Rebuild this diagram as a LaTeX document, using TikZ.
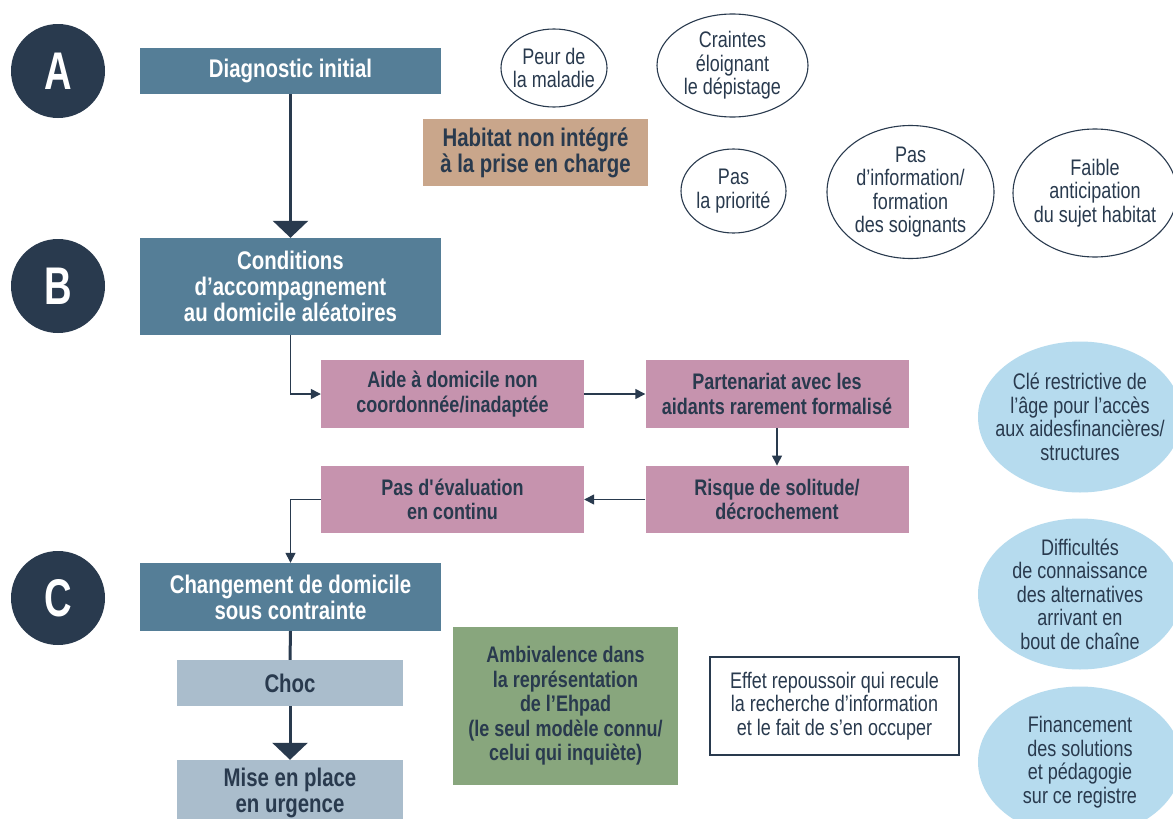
\documentclass[tikz,border=0pt]{standalone}
\usepackage{fontspec}
\setmainfont{Liberation Sans}[FakeStretch=0.8]
\newfontfamily\letterfont{Liberation Sans}[FakeStretch=0.72]
\usetikzlibrary{arrows.meta,shapes.geometric}
\definecolor{navy}{HTML}{293A4E}
\definecolor{steel}{HTML}{557E97}
\definecolor{tan}{HTML}{C9A68B}
\definecolor{pink}{HTML}{C693AE}
\definecolor{greyblue}{HTML}{AABDCC}
\definecolor{sage}{HTML}{88A67D}
\definecolor{skyblue}{HTML}{B6DBEE}
\tikzset{
  bigtxt/.style={font=\fontsize{25.5}{26}\selectfont\bfseries},
  smalltxt/.style={font=\fontsize{22.5}{24.5}\selectfont\bfseries},
  regtxt/.style={font=\fontsize{22.5}{23.5}\selectfont},
  mainbox/.style={rectangle, fill=steel, text=white, bigtxt, align=center, inner sep=0pt},
  pinkbox/.style={rectangle, fill=pink, text=navy, smalltxt, align=center, inner sep=0pt, minimum width=263pt, minimum height=67.5pt},
  greybox/.style={rectangle, fill=greyblue, text=navy, bigtxt, align=center, inner sep=0pt, minimum width=226pt},
  letter/.style={circle, fill=navy, text=white, minimum size=94pt, inner sep=0pt, font=\letterfont\fontsize{53}{53}\selectfont\bfseries},
  wellipse/.style={ellipse, draw=navy, line width=1.1pt, fill=white, text=navy, regtxt, align=center, inner sep=-20pt},
  bellipse/.style={ellipse, fill=skyblue, text=navy, regtxt, align=center, inner sep=-20pt, minimum width=204pt, minimum height=151pt},
  bigarrow/.style={draw=navy, line width=3pt, -{Triangle[width=35pt,length=17pt]}},
  smallarrow/.style={draw=navy, line width=1.4pt, -{Triangle[width=10pt,length=10pt]}},
  plainline/.style={draw=navy, line width=3pt},
}
\begin{document}
\begin{tikzpicture}[x=1pt,y=-1pt]
\useasboundingbox (0,0) rectangle (1173,819);
\clip (0,0) rectangle (1173,819);
\fill[white] (0,0) rectangle (1173,819);

% letters
\node[letter] (la) at (58,71) {A};
\node[letter] (lb) at (58,286) {B};
\node[letter] (lc) at (58,598) {C};

% main boxes
\node[mainbox, minimum width=301pt, minimum height=46pt] (diag) at (290.5,71) {Diagnostic initial};
\node[mainbox, minimum width=301pt, minimum height=97pt] (cond) at (290.5,286.5) {Conditions\\d’accompagnement\\au domicile aléatoires};
\node[mainbox, minimum width=301pt, minimum height=68pt] (chg) at (290.5,597) {Changement de domicile\\sous contrainte};

% habitat
\node[rectangle, fill=tan, text=navy, bigtxt, align=center, inner sep=0pt, minimum width=225pt, minimum height=67pt] (hab) at (535.5,152.5) {Habitat non intégré\\à la prise en charge};

% white ellipses
\node[wellipse, minimum width=106pt, minimum height=78pt] (peur) at (554,68) {Peur de\\la maladie};
\node[wellipse, minimum width=151pt, minimum height=103pt] (craint) at (732.5,65.5) {Craintes\\éloignant\\le dépistage};
\node[wellipse, minimum width=105pt, minimum height=84pt] (prio) at (733.5,191) {Pas\\la priorité};
\node[wellipse, minimum width=167pt, minimum height=133pt] (info) at (910.5,192) {Pas\\d’information/\\formation\\des soignants};
\node[wellipse, minimum width=164pt, minimum height=128pt] (faible) at (1095,193) {Faible\\anticipation\\du sujet habitat};

% pink boxes
\node[pinkbox] (aide) at (452.5,394) {Aide à domicile non\\coordonnée/inadaptée};
\node[pinkbox] (part) at (777,394) {Partenariat avec les\\aidants rarement formalisé};
\node[pinkbox] (risk) at (777,499.5) {Risque de solitude/\\décrochement};
\node[pinkbox] (eval) at (452.5,499.5) {Pas d\textquotesingle évaluation\\en continu};

% grey boxes
\node[greybox, minimum height=46pt] (choc) at (290,683) {Choc};
\node[greybox, minimum height=66pt] (mise) at (290,793) {Mise en place\\en urgence};

% green box
\node[rectangle, fill=sage, text=navy, smalltxt, align=center, inner sep=0pt, minimum width=225pt, minimum height=158pt] (ambi) at (565.5,706) {Ambivalence dans\\la représentation\\de l’Ehpad\\(le seul modèle connu/\\celui qui inquiète)};

% effet box
\node[rectangle, draw=navy, line width=1.1pt, fill=white, text=navy, regtxt, align=center, inner sep=0pt, minimum width=249pt, minimum height=98pt] (effet) at (834.5,706) {Effet repoussoir qui recule\\la recherche d’information\\et le fait de s’en occuper};

% blue ellipses
\node[bellipse] (cle) at (1080,417) {Clé restrictive de\\l’âge pour l’accès\\aux aidesfinancières/\\structures};
\node[bellipse] (diff) at (1080,594) {Difficultés\\de connaissance\\des alternatives\\arrivant en\\bout de chaîne};
\node[bellipse] (fin) at (1080,762) {Financement\\des solutions\\et pédagogie\\sur ce registre};

% connectors
\draw[bigarrow] (diag.south) -- (cond.north);
\draw[smallarrow] (cond.south) |- (aide.west);
\draw[smallarrow] (aide.east) -- (part.west);
\draw[smallarrow] (part.south) -- (risk.north);
\draw[smallarrow] (risk.west) -- (eval.east);
\draw[smallarrow] (eval.west) -| (chg.north);
\draw[plainline] (chg.south) -- (choc.north);
\draw[bigarrow] (choc.south) -- (mise.north);
\end{tikzpicture}
\end{document}
